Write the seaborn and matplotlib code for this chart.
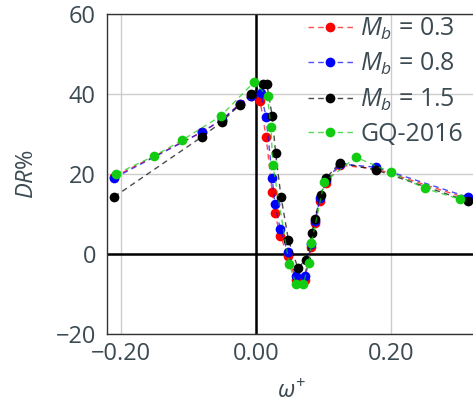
import matplotlib
matplotlib.use("Agg")
import matplotlib.pyplot as plt
import matplotlib.colors as mcolors
import seaborn as sns
import pandas as pd

# ---- data ----
x_m03 = [-0.210, -0.080, -0.051, -0.024, -0.007, 0.006, 0.015, 0.024, 0.028, 0.036, 0.047,
         0.059, 0.072, 0.082, 0.087, 0.095, 0.104, 0.124, 0.178, 0.314]
y_m03 = [19.3, 30.5, 33.5, 37.5, 39.5, 38.3, 29.2, 15.5, 10.2, 4.6, -0.5,
         -6.5, -6.5, 1.8, 7.7, 13.3, 17.8, 22.2, 21.3, 13.8]
x_m08 = [-0.210, -0.080, -0.051, -0.024, -0.007, 0.007, 0.015, 0.024, 0.028, 0.036, 0.047,
         0.059, 0.072, 0.082, 0.087, 0.095, 0.104, 0.124, 0.178, 0.314]
y_m08 = [19.0, 30.5, 33.5, 37.5, 39.5, 40.3, 34.2, 19.0, 12.4, 6.2, 0.5,
         -5.6, -5.6, 2.5, 8.3, 13.9, 18.4, 22.5, 21.7, 14.2]
x_m15 = [-0.210, -0.080, -0.051, -0.024, -0.007, 0.010, 0.016, 0.024, 0.029, 0.037, 0.048,
         0.062, 0.074, 0.083, 0.087, 0.096, 0.104, 0.124, 0.178, 0.314]
y_m15 = [14.3, 29.3, 33.0, 37.3, 40.0, 42.5, 42.5, 34.4, 25.2, 14.3, 3.5,
         -3.5, -1.4, 5.2, 8.8, 14.8, 19.0, 22.8, 21.0, 13.2]
x_gq = [-0.207, -0.151, -0.109, -0.052, -0.003, 0.017, 0.022, 0.025, 0.049, 0.059,
        0.070, 0.078, 0.082, 0.101, 0.148, 0.200, 0.250, 0.302]
y_gq = [20.0, 24.5, 28.5, 34.5, 43.0, 39.4, 31.7, 22.2, -2.5, -7.4,
        -7.6, -2.3, 2.7, 18.0, 24.2, 20.4, 16.4, 13.7]

labels = [r"$M_b$ = 0.3", r"$M_b$ = 0.8", r"$M_b$ = 1.5", "GQ-2016"]
colors = ["#ff0000", "#0000ff", "#000000", "#11cc11"]
x_ticks = [-0.20, 0.00, 0.20]
x_ticklabels = ["\u22120.20", "0.00", "0.20"]
y_ticks = [-20, 0, 20, 40, 60]
y_ticklabels = ["\u221220", "0", "20", "40", "60"]

frames = []
for lab, xs, ys in zip(labels, [x_m03, x_m08, x_m15, x_gq], [y_m03, y_m08, y_m15, y_gq]):
    frames.append(pd.DataFrame({"w": xs, "DR": ys, "case": lab}))
df = pd.concat(frames, ignore_index=True)

sns.set_style("whitegrid")
txt = "#3C4A52"
plt.rcParams["font.family"] = ["Open Sans", "DejaVu Sans"]
plt.rcParams["mathtext.fontset"] = "custom"
plt.rcParams["mathtext.rm"] = "Open Sans"
plt.rcParams["mathtext.it"] = "Open Sans:italic"
plt.rcParams["text.color"] = txt
plt.rcParams["axes.labelcolor"] = txt
plt.rcParams["xtick.color"] = txt
plt.rcParams["ytick.color"] = txt

fig = plt.figure(figsize=(4.73, 4.04), dpi=100)
ax = fig.add_axes([107 / 473, 1 - 334 / 404, 368 / 473, 320 / 404])

ax.axhline(0, color="black", lw=1.8, zorder=1)
ax.axvline(0, color="black", lw=1.8, zorder=1)

sns.lineplot(data=df, x="w", y="DR", hue="case", hue_order=labels, palette=colors,
             sort=False, estimator=None, units="case", marker="o", markersize=7,
             markeredgewidth=0, linestyle="--", linewidth=1.0, ax=ax, zorder=3,
             legend=True)

for ln in ax.lines[2:]:
    c = mcolors.to_rgb(ln.get_color())
    ln.set_markerfacecolor(c)
    ln.set_markeredgecolor(c)
    ln.set_color((*c, 0.7))
    ln.set_dashes((4, 3))

ax.set_xlim(-0.2207, 0.3243)
ax.set_ylim(-20, 60)
ax.set_xticks(x_ticks)
ax.set_xticklabels(x_ticklabels)
ax.set_yticks(y_ticks)
ax.set_yticklabels(y_ticklabels)
ax.tick_params(labelsize=17, length=0)
ax.tick_params(axis="y", pad=8)
ax.tick_params(axis="x", pad=6)
ax.grid(True, color="#cccccc", lw=1)
for s in ax.spines.values():
    s.set_color("#333333")
    s.set_linewidth(1.0)
ax.set_xlabel(r"$\omega^{+}$", fontsize=17, labelpad=10)
ax.set_ylabel(r"$DR\%$", fontsize=17, labelpad=12)

leg = ax.legend(loc="upper right", bbox_to_anchor=(0.995, 1.025), frameon=False, fontsize=18,
                handlelength=1.8, labelspacing=0.36, borderaxespad=0.0, handletextpad=0.3)
for h in leg.get_lines():
    c = mcolors.to_rgb(h.get_color())
    h.set_markerfacecolor(c)
    h.set_markeredgecolor(c)
    h.set_color((*c, 0.7))
    h.set_dashes((4, 3))

fig.savefig("out.png", dpi=100)
